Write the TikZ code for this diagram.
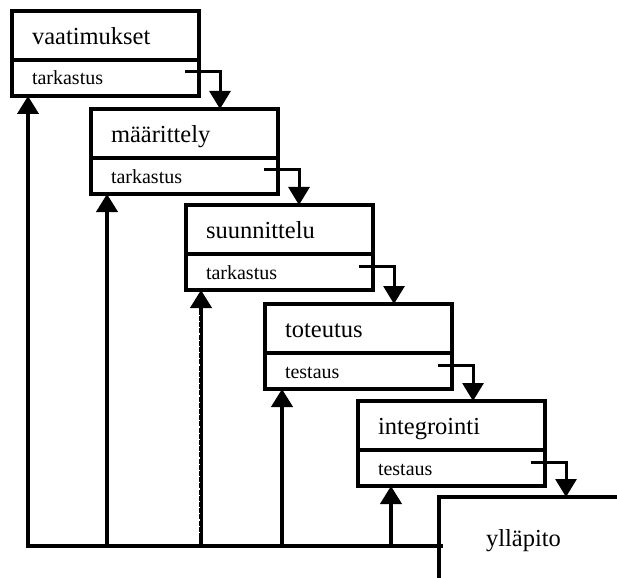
\documentclass[tikz,border=0pt]{standalone}
\usepackage{fontspec}
\setmainfont{Liberation Serif}
\usetikzlibrary{arrows.meta,calc}
\begin{document}
\begin{tikzpicture}[x=1pt,y=-1pt,
  phase/.style={draw,line width=3.3pt,outer sep=0pt,anchor=north west,
    minimum width=187pt,inner xsep=20pt,inner ysep=0pt,text width=147pt,
    align=left,text depth=0pt},
  title/.style={phase,minimum height=49pt,
    font=\fontsize{24.5}{25}\selectfont,text height=17.5pt},
  check/.style={phase,minimum height=36pt,
    font=\fontsize{20}{21}\selectfont,text height=14pt},
  flow/.style={line width=3pt,-{Triangle[width=21pt,length=18pt]}},
  back/.style={line width=4pt,-{Triangle[width=21pt,length=18pt]}},
  notch/.style={white,line width=1pt,dash pattern=on 1.2pt off 5pt},
]
\useasboundingbox (0,0) rectangle (617,577);
\fill[white] (0,0) rectangle (617,577);
\clip (0,0) rectangle (617,577);

% the phases, each a title box with its review box underneath
\node[title] (s1) at (12,11)  {vaatimukset};
\node[check] (c1) at (s1.south west) {tarkastus};
\node[title] (s2) at (91,109) {määrittely};
\node[check] (c2) at (s2.south west) {tarkastus};
\node[title] (s3) at (186,205) {suunnittelu};
\node[check] (c3) at (s3.south west) {tarkastus};
\node[title] (s4) at (265,304) {toteutus};
\node[check] (c4) at (s4.south west) {testaus};
\node[title] (s5) at (358,401) {integrointi};
\node[check] (c5) at (s5.south west) {testaus};

% maintenance: open box running off the page
\node[draw,line width=3.3pt,outer sep=0pt,anchor=north west,
  minimum width=230pt,minimum height=100pt,inner xsep=47pt,inner ysep=0pt,
  text width=136pt,align=left,font=\fontsize{24.5}{25}\selectfont,
  text height=0pt,text depth=2pt] (s6) at (439,497) {ylläpito};

% forward flow from each review to the next phase
\coordinate (o1) at ($(c1.north east)+(-14pt,-12pt)$);
\coordinate (o2) at ($(c2.north east)+(-14pt,-12pt)$);
\coordinate (o3) at ($(c3.north east)+(-14pt,-12pt)$);
\coordinate (o4) at ($(c4.north east)+(-14pt,-12pt)$);
\coordinate (o5) at ($(c5.north east)+(-14pt,-12pt)$);
\draw[flow] (o1) -- ++(35,0) coordinate (k1) -- (k1 |- s2.north);
\draw[flow] (o2) -- ++(35,0) coordinate (k2) -- (k2 |- s3.north);
\draw[flow] (o3) -- ++(35,0) coordinate (k3) -- (k3 |- s4.north);
\draw[flow] (o4) -- ++(35,0) coordinate (k4) -- (k4 |- s5.north);
\draw[flow] (o5) -- ++(35,0) coordinate (k5) -- (k5 |- s6.north);

% feedback from maintenance back to every phase
\coordinate (corner) at (28,546);
\coordinate (j2) at (107,546);
\coordinate (j3) at (201,546);
\coordinate (j4) at (282,546);
\coordinate (j5) at (391,546);
\draw[back] ($(s6.north west |- corner)+(4pt,0)$) -- (corner) -- (corner |- c1.south);
\draw[back] (j2) -- (j2 |- c2.south);
\draw[back] (j3) -- (j3 |- c3.south);
\draw[back] (j4) -- (j4 |- c4.south);
\draw[back] (j5) -- (j5 |- c5.south);
\draw[notch] ($(j3)+(-1.5pt,13pt)$) -- ($(j3 |- c3.south)+(-1.5pt,-22pt)$);
\end{tikzpicture}
\end{document}
